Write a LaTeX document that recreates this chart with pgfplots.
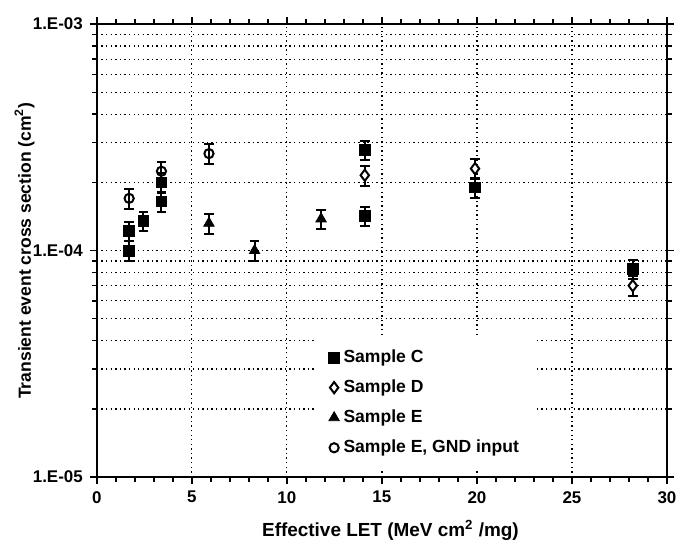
\documentclass[border=0pt]{standalone}
\usepackage{fontspec}
\setmainfont{Liberation Sans}
\usepackage{pgfplots}
\pgfplotsset{compat=1.18}

\begin{document}
\begin{tikzpicture}
\begin{axis}[
  scale only axis,
  width  = 285bp,
  height = 226.5bp,
  ymode  = log,
  xmin = 0, xmax = 30,
  ymin = 1e-5, ymax = 1e-3,
  xtick = {0,5,...,30},
  minor x tick num = 4,
  ytick = {1e-5,1e-4,1e-3},
  yticklabels = {1.E-05,1.E-04,1.E-03},
  /pgf/number format/assume math mode=true,
  ticklabel style = {font=\fontsize{8.5}{10}\selectfont\bfseries},
  xmajorgrids, ymajorgrids, yminorgrids,
  grid style = {black, line width=0.6pt, dash pattern=on 0.7pt off 1.6pt},
  axis line style = {line width=0.9pt},
  tick style = {black, line width=0.7pt},
  tick align = outside,
  major tick length = 3.5bp,
  minor tick length = 2.5bp,
  xlabel = {Effective LET (MeV cm\textsuperscript{2} /mg)},
  ylabel = {Transient event cross section (cm\textsuperscript{2})},
  xlabel style = {at={(axis description cs:0.515,-0.079)}, anchor=north,
                  font=\fontsize{9.5}{11}\selectfont\bfseries},
  ylabel style = {at={(axis description cs:-0.097,0.5)}, anchor=south,
                  font=\fontsize{8.8}{10}\selectfont\bfseries},
  legend style = {draw=none, fill=white, at={(0.385,0.313)}, anchor=north west,
                  font=\fontsize{8.8}{10}\selectfont\bfseries, row sep=3.2bp,
                  legend cell align=left, inner xsep=6bp, inner ysep=5bp},
  legend image post style = {xshift=-3.5bp},
  error bars/error bar style = {line width=1pt, black},
  error bars/error mark options = {rotate=90, mark size=2.4bp, line width=1pt, black},
]
  % Sample C
  \addplot[only marks, mark=square*, mark size=2.7bp, black,
           error bars/.cd, y dir=both, y fixed relative=0.1]
    coordinates {
      (1.7,1.22e-4) (1.7,1.0e-4) (2.45,1.35e-4) (3.4,2.0e-4) (3.4,1.65e-4)
      (14.1,2.78e-4) (14.1,1.42e-4) (19.9,1.9e-4) (28.2,8.3e-5)
    };
  \addlegendentry{Sample C}
  % Sample D
  \addplot[only marks, mark=diamond*, mark size=2.8bp, black,
           mark options={line width=1pt, fill=white},
           error bars/.cd, y dir=both, y fixed relative=0.1]
    coordinates {
      (14.1,2.15e-4) (19.9,2.3e-4) (28.2,7.0e-5)
    };
  \addlegendentry{Sample D}
  % Sample E
  \addplot[only marks, mark=triangle*, mark size=3bp, black,
           error bars/.cd, y dir=both, y fixed relative=0.1]
    coordinates {
      (5.9,1.32e-4) (8.3,1.0e-4) (11.8,1.38e-4)
    };
  \addlegendentry{Sample E}
  % Sample E, GND input
  \addplot[only marks, mark=o, mark size=2.3bp, black,
           mark options={line width=1pt, fill=white},
           error bars/.cd, y dir=both, y fixed relative=0.1]
    coordinates {
      (1.7,1.7e-4) (3.4,2.24e-4) (5.9,2.68e-4)
    };
  \addlegendentry{Sample E, GND input}
\end{axis}
\pgfresetboundingbox
\path (current axis.south west) ++(-48.4bp,-32.5bp) coordinate (bl);
\path (current axis.north east) ++(5bp,12bp) coordinate (tr);
\useasboundingbox (bl) rectangle (tr);
\end{tikzpicture}
\end{document}
